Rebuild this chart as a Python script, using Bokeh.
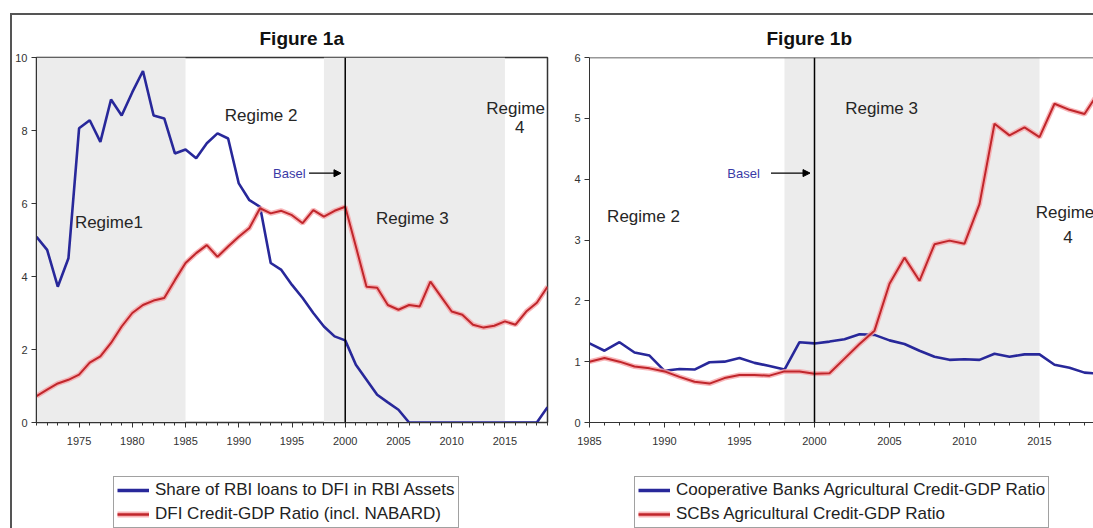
from bokeh.plotting import figure
from bokeh.models import (BoxAnnotation, Span, Label, Arrow, NormalHead, Legend,
                          LegendItem, SingleIntervalTicker, Range1d)
from bokeh.layouts import row, column
from bokeh.embed import file_html
from bokeh.resources import INLINE

# ---------------- data ----------------
years_a = list(range(1971, 2020))
rbi_share_dfi = [5.09, 4.73, 3.72, 4.5, 8.06, 8.28, 7.69, 8.85, 8.41, 9.05,
                 9.63, 8.41, 8.33, 7.37, 7.48, 7.24, 7.65, 7.92, 7.78, 6.55,
                 6.09, 5.91, 4.37, 4.18, 3.77, 3.41, 3.0, 2.63, 2.36, 2.25,
                 1.58, 1.17, 0.76, 0.55, 0.35, 0.0, 0.0, 0.0, 0.0, 0.0,
                 0.0, 0.0, 0.0, 0.0, 0.0, 0.0, 0.0, 0.0, 0.42]
dfi_credit_gdp = [0.72, 0.9, 1.07, 1.17, 1.31, 1.64, 1.81, 2.18, 2.63, 3.0,
                  3.22, 3.34, 3.41, 3.9, 4.37, 4.64, 4.86, 4.54, 4.82, 5.09,
                  5.33, 5.87, 5.73, 5.8, 5.68, 5.46, 5.82, 5.64, 5.8, 5.91,
                  4.82, 3.72, 3.69, 3.22, 3.09, 3.22, 3.18, 3.86, 3.45, 3.04,
                  2.95, 2.68, 2.6, 2.65, 2.77, 2.68, 3.04, 3.28, 3.72]

years_b = list(range(1985, 2020))
coop_agri_gdp = [1.30, 1.18, 1.32, 1.15, 1.10, 0.85, 0.88, 0.87, 0.99, 1.0,
                 1.06, 0.98, 0.93, 0.87, 1.32, 1.30, 1.33, 1.37, 1.45, 1.44,
                 1.35, 1.29, 1.18, 1.08, 1.03, 1.04, 1.03, 1.13, 1.08, 1.12,
                 1.12, 0.95, 0.90, 0.82, 0.80]
scb_agri_gdp = [1.0, 1.06, 1.0, 0.92, 0.89, 0.84, 0.75, 0.67, 0.64, 0.73,
                0.78, 0.78, 0.77, 0.84, 0.84, 0.80, 0.81, 1.05, 1.29, 1.51,
                2.28, 2.71, 2.33, 2.93, 2.99, 2.94, 3.59, 4.91, 4.72, 4.85,
                4.69, 5.24, 5.14, 5.07, 5.45]

shaded_a = [(1971, 1985), (1998, 2015)]
shaded_b = [(1998, 2015)]
basel_year = 2000

legend_a = ["Share of RBI loans to DFI in RBI Assets",
            "DFI Credit-GDP Ratio (incl. NABARD)"]
legend_b = ["Cooperative Banks Agricultural Credit-GDP Ratio",
            "SCBs Agricultural Credit-GDP Ratio"]

# ---------------- styles ----------------
FONT = "Liberation Sans"
BLUE = "#28289a"
RED_CORE = "#c0262b"
RED_HALO = "#f6a3a6"
SHADE = "#ececec"
AXC = "#333333"


def style_axes(p):
    for ax in (p.xaxis[0], p.yaxis[0]):
        ax.axis_line_color = AXC
        ax.major_tick_line_color = AXC
        ax.minor_tick_line_color = AXC
        ax.major_tick_in = 0
        ax.major_tick_out = 5
        ax.minor_tick_in = 0
        ax.minor_tick_out = 3
        ax.major_label_text_font = FONT
        ax.major_label_text_font_size = "11px"
        ax.major_label_text_color = "#333333"
        ax.major_label_standoff = 4
    p.xaxis.major_label_standoff = 9
    p.xgrid.visible = False
    p.ygrid.visible = False


def style_title(p, text, offset, standoff, valign):
    p.title.text = text
    p.title.align = "left"
    p.title.offset = offset
    p.title.standoff = standoff
    p.title.vertical_align = valign
    p.title.text_font = FONT
    p.title.text_font_size = "19px"
    p.title.text_font_style = "bold"
    p.title.text_color = "#111111"


def txt(p, x, y, s, size="17px", color="#262626"):
    p.add_layout(Label(x=x, y=y, text=s, text_font=FONT, text_font_size=size,
                       text_color=color, text_align="center",
                       text_baseline="middle"))


def legend_fig(width, xs, ys1, ys2, labels, x_off):
    # the legend's own renderers sit outside this figure's visible range
    f = figure(width=width, height=76, output_backend="svg", toolbar_location=None,
               x_axis_location=None, y_axis_location=None,
               min_border_left=0, min_border_right=0, min_border_top=0,
               min_border_bottom=0, x_range=Range1d(0, 1), y_range=Range1d(0, 1))
    f.outline_line_color = None
    f.xgrid.visible = False
    f.ygrid.visible = False
    b = f.line(xs, ys1, line_color=BLUE, line_width=3.5)
    rh = f.line(xs, ys2, line_color=RED_HALO, line_width=6, line_alpha=0.8)
    rc = f.line(xs, ys2, line_color=RED_CORE, line_width=2.5)
    leg = Legend(items=[LegendItem(label=labels[0], renderers=[b]),
                        LegendItem(label=labels[1], renderers=[rh, rc])],
                 location=(x_off, 0), orientation="vertical",
                 label_text_font=FONT, label_text_font_size="17px",
                 label_text_color="#222222", glyph_width=32, glyph_height=20,
                 label_height=20, spacing=4, padding=3, margin=0,
                 label_standoff=6, border_line_color="#444444",
                 border_line_width=1.2, background_fill_color="white",
                 background_fill_alpha=1)
    f.add_layout(leg)
    return f


# ---------------- Figure 1a ----------------
pa = figure(width=550, height=437, output_backend="svg", toolbar_location=None,
            x_range=Range1d(1971, 2019), y_range=Range1d(0, 10),
            min_border_left=23, min_border_right=15, min_border_top=42,
            min_border_bottom=29)
style_title(pa, "Figure 1a", 223, 17, "bottom")
pa.outline_line_color = AXC
pa.outline_line_width = 1.5
for l, r in shaded_a:
    pa.add_layout(BoxAnnotation(left=l, right=r, fill_color=SHADE, fill_alpha=1,
                                line_color=None, level="underlay"))
pa.add_layout(Span(location=basel_year, dimension="height", line_color="black",
                   line_width=1.5))
pa.line(years_a, rbi_share_dfi, line_color=BLUE, line_width=2.6)
pa.line(years_a, dfi_credit_gdp, line_color=RED_HALO, line_width=5, line_alpha=0.8)
pa.line(years_a, dfi_credit_gdp, line_color=RED_CORE, line_width=2)
pa.xaxis.ticker = SingleIntervalTicker(interval=5, num_minor_ticks=5)
pa.yaxis.ticker = SingleIntervalTicker(interval=2, num_minor_ticks=0)
style_axes(pa)

txt(pa, 1977.8, 5.49, "Regime1")
txt(pa, 1992.1, 8.42, "Regime 2")
txt(pa, 2006.3, 5.6, "Regime 3")
txt(pa, 2016.0, 8.6, "Regime")
txt(pa, 2016.4, 8.09, "4")
txt(pa, 1994.75, 6.83, "Basel", size="13px", color="#3a3aa6")
pa.add_layout(Arrow(end=NormalHead(size=7, fill_color="black", line_color="black"),
                    x_start=1996.6, y_start=6.83, x_end=1999.6, y_end=6.83,
                    line_color="black", line_width=1.3))

# ---------------- Figure 1b ----------------
pb = figure(width=531, height=437, output_backend="svg", toolbar_location=None,
            x_range=Range1d(1985, 1985 + 504 / 15), y_range=Range1d(0, 6),
            min_border_left=27, min_border_right=0, min_border_top=42,
            min_border_bottom=30)
style_title(pb, "Figure 1b", 177, 17, "bottom")
pb.outline_line_color = None
for l, r in shaded_b:
    pb.add_layout(BoxAnnotation(left=l, right=r, fill_color=SHADE, fill_alpha=1,
                                line_color=None, level="underlay"))
pb.add_layout(Span(location=basel_year, dimension="height", line_color="black",
                   line_width=1.5))
pb.add_layout(Span(location=6, dimension="width", line_color=AXC, line_width=1.5))
pb.line(years_b, coop_agri_gdp, line_color=BLUE, line_width=2.6)
pb.line(years_b, scb_agri_gdp, line_color=RED_HALO, line_width=5, line_alpha=0.8)
pb.line(years_b, scb_agri_gdp, line_color=RED_CORE, line_width=2)
pb.xaxis.ticker = SingleIntervalTicker(interval=5, num_minor_ticks=5)
pb.yaxis.ticker = SingleIntervalTicker(interval=1, num_minor_ticks=0)
style_axes(pb)

txt(pb, 2004.47, 5.16, "Regime 3")
txt(pb, 1988.6, 3.38, "Regime 2")
txt(pb, 2016.7, 3.45, "Regime")
txt(pb, 2016.9, 3.05, "4")
txt(pb, 1995.27, 4.1, "Basel", size="13px", color="#3a3aa6")
pb.add_layout(Arrow(end=NormalHead(size=7, fill_color="black", line_color="black"),
                    x_start=1997.1, y_start=4.1, x_end=1999.7, y_end=4.1,
                    line_color="black", line_width=1.3))

la = legend_fig(550, years_a, rbi_share_dfi, dfi_credit_gdp, legend_a, 101)
lb = legend_fig(531, years_b, coop_agri_gdp, scb_agri_gdp, legend_b, 72)

layout = column(row(pa, pb), row(la, lb), margin=(13, 0, 0, 10),
                styles={"border-top": "2px solid #555555",
                        "border-left": "2px solid #555555"})

open("out.html", "w").write(file_html(layout, INLINE))
